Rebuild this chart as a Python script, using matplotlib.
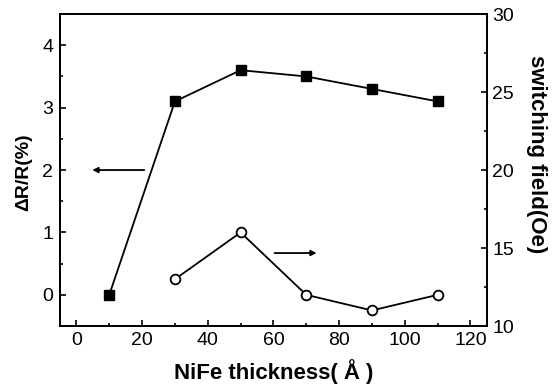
import matplotlib.pyplot as plt
from matplotlib.ticker import MultipleLocator

# NiFe thickness (Angstrom)
thickness_mr = [10, 30, 50, 70, 90, 110]
mr_ratio = [0.0, 3.1, 3.6, 3.5, 3.3, 3.1]          # dR/R (%)

thickness_hs = [30, 50, 70, 90, 110]
switching_field = [13, 16, 12, 11, 12]            # Oe

plt.rcParams['font.family'] = ['Liberation Sans', 'DejaVu Sans']

fig = plt.figure(figsize=(5.52, 3.9), dpi=100)
ax = fig.add_axes([0.1087, 0.164, 0.7733, 0.800])
ax2 = ax.twinx()

ax.plot(thickness_mr, mr_ratio, color='black', lw=1.3, marker='s',
        ms=6.5, mfc='black', mec='black')
ax2.plot(thickness_hs, switching_field, color='black', lw=1.3, marker='o',
         ms=7, mfc='white', mec='black', mew=1.3)

ax.set_xlim(-5, 125)
ax.set_ylim(-0.5, 4.5)
ax2.set_ylim(10, 30)

ax.xaxis.set_major_locator(MultipleLocator(20))
ax.xaxis.set_minor_locator(MultipleLocator(10))
ax.yaxis.set_major_locator(MultipleLocator(1))
ax.yaxis.set_minor_locator(MultipleLocator(0.5))
ax2.yaxis.set_major_locator(MultipleLocator(5))
ax2.yaxis.set_minor_locator(MultipleLocator(2.5))

for a in (ax, ax2):
    a.tick_params(which='both', direction='in', labelsize=14, width=1.2)
    a.tick_params(which='major', length=4)
    a.tick_params(which='minor', length=2.5)
    for s in a.spines.values():
        s.set_linewidth(1.3)
ax.tick_params(axis='y', which='both', right=False, pad=5)
ax.tick_params(axis='x', which='both', top=False, pad=4)
ax2.tick_params(axis='y', pad=4)

ax.set_xlabel('NiFe thickness( Å )', fontsize=16, fontweight='bold',
              va='center')
ax.xaxis.set_label_coords(0.5, -0.147)
ax.set_ylabel('ΔR/R(%)', fontsize=14, fontweight='bold', va='center')
ax.yaxis.set_label_coords(-0.084, 0.494)
ax2.set_ylabel('switching field(Oe)', fontsize=16, fontweight='bold',
               rotation=270, va='center')
ax2.yaxis.set_label_coords(1.117, 0.551)

# arrows pointing to the respective axes
ax.annotate('', xy=(4, 2.0), xytext=(21.5, 2.0),
            arrowprops=dict(arrowstyle='-|>', color='black', lw=1.3,
                            mutation_scale=8))
ax.annotate('', xy=(74, 0.67), xytext=(59.5, 0.67),
            arrowprops=dict(arrowstyle='-|>', color='black', lw=1.3,
                            mutation_scale=8))

plt.savefig('out.png', dpi=100)
